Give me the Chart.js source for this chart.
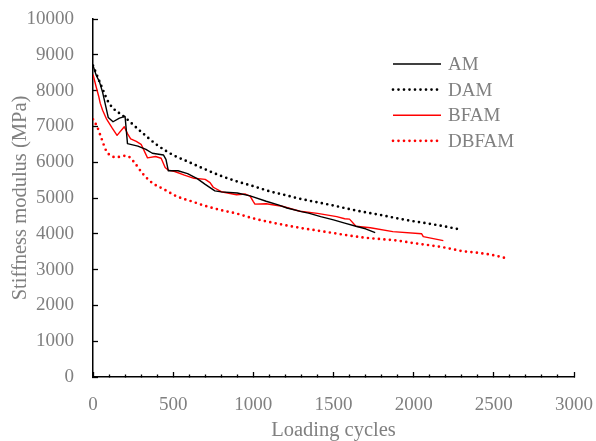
<!DOCTYPE html>
<html>
<head>
<meta charset="utf-8">
<script src="https://cdn.jsdelivr.net/npm/chart.js@4"></script>
<style>
  html, body { margin: 0; padding: 0; background: #fff; }
  #wrap { position: relative; width: 596px; height: 441px; }
</style>
</head>
<body>
<div id="wrap"><canvas id="chart"></canvas></div>
<script>
// ---------------------------------------------------------------------------
// Data (loading cycles vs stiffness modulus, MPa)
// ---------------------------------------------------------------------------
const amCycles    = [0, 20, 40, 60, 80, 95, 125, 165, 200, 215, 280, 330, 370, 440, 455, 470, 530, 590, 650, 700, 760, 800, 900, 980, 1080, 1160, 1210, 1300, 1350, 1420, 1500, 1570, 1640, 1700, 1760];
const amStiffness = [8700, 8430, 8250, 7950, 7550, 7250, 7130, 7230, 7280, 6520, 6450, 6360, 6250, 6200, 6080, 5760, 5760, 5680, 5540, 5380, 5200, 5170, 5140, 5060, 4910, 4800, 4720, 4620, 4570, 4480, 4390, 4300, 4210, 4140, 4030];

const damCycles    = [0, 50, 100, 200, 300, 400, 500, 600, 700, 800, 900, 1000, 1100, 1200, 1300, 1400, 1500, 1600, 1700, 1800, 1900, 2000, 2100, 2200, 2300];
const damStiffness = [8700, 8150, 7650, 7250, 6850, 6480, 6200, 6000, 5800, 5615, 5460, 5330, 5190, 5080, 4970, 4880, 4790, 4690, 4600, 4520, 4430, 4350, 4280, 4200, 4110];

const bfamCycles    = [0, 20, 35, 45, 60, 85, 120, 150, 195, 215, 235, 270, 300, 340, 390, 425, 450, 470, 510, 570, 630, 700, 730, 750, 800, 895, 950, 980, 1000, 1010, 1080, 1180, 1290, 1400, 1520, 1570, 1600, 1640, 1730, 1870, 2050, 2060, 2185];
const bfamStiffness = [8450, 8100, 7850, 7650, 7450, 7200, 6950, 6750, 6990, 6800, 6650, 6580, 6500, 6120, 6160, 6110, 5850, 5780, 5740, 5640, 5550, 5520, 5430, 5300, 5175, 5090, 5110, 5050, 4900, 4830, 4840, 4770, 4630, 4570, 4480, 4420, 4410, 4210, 4170, 4060, 4000, 3920, 3810];

const dbfamCycles    = [0, 25, 50, 85, 145, 200, 225, 260, 310, 370, 440, 520, 620, 700, 800, 900, 1000, 1100, 1200, 1300, 1400, 1500, 1600, 1700, 1800, 1900, 2000, 2100, 2200, 2300, 2400, 2500, 2575];
const dbfamStiffness = [7200, 7000, 6700, 6300, 6140, 6180, 6150, 5980, 5680, 5420, 5250, 5050, 4900, 4780, 4660, 4560, 4430, 4330, 4240, 4160, 4090, 4020, 3950, 3890, 3850, 3810, 3740, 3680, 3610, 3520, 3470, 3400, 3320];

const seriesNames = ['AM', 'DAM', 'BFAM', 'DBFAM'];

// ---------------------------------------------------------------------------
// Styling
// ---------------------------------------------------------------------------
const FONT = "'Liberation Serif', 'Times New Roman', serif";
const TEXT_GREY = '#808080';
const DOTS = [0, 5.5];

function pairs(xs, ys) {
  return xs.map((x, i) => ({ x, y: ys[i] }));
}

function solid(label, xs, ys, color) {
  return {
    label, data: pairs(xs, ys),
    borderColor: color, borderWidth: 1.4,
    pointRadius: 0, tension: 0, borderJoinStyle: 'round',
  };
}

function dotted(label, xs, ys, color) {
  return {
    label, data: pairs(xs, ys),
    borderColor: color, borderWidth: 2.7,
    borderDash: DOTS, borderCapStyle: 'round',
    pointRadius: 0, cubicInterpolationMode: 'monotone',
  };
}

// Legend drawn inside the plot area, upper right (like the Excel original)
const insideLegend = {
  id: 'insideLegend',
  afterDraw(chart) {
    const { ctx } = chart;
    const lineX = 393, lineLen = 48, textX = 448, firstY = 64, rowH = 25.6;
    chart.data.datasets.forEach((ds, i) => {
      const y = firstY + i * rowH;
      ctx.save();
      ctx.strokeStyle = ds.borderColor;
      ctx.lineWidth = ds.borderWidth;
      ctx.setLineDash(ds.borderDash || []);
      ctx.lineCap = ds.borderCapStyle || 'butt';
      ctx.beginPath();
      ctx.moveTo(lineX, y);
      ctx.lineTo(lineX + lineLen, y);
      ctx.stroke();
      ctx.fillStyle = TEXT_GREY;
      ctx.font = `19px ${FONT}`;
      ctx.textBaseline = 'middle';
      ctx.fillText(ds.label, textX, y + 1);
      ctx.restore();
    });
  },
};

new Chart(document.getElementById('chart'), {
  type: 'line',
  data: {
    datasets: [
      solid(seriesNames[0], amCycles, amStiffness, '#000000'),
      dotted(seriesNames[1], damCycles, damStiffness, '#000000'),
      solid(seriesNames[2], bfamCycles, bfamStiffness, '#ff0000'),
      dotted(seriesNames[3], dbfamCycles, dbfamStiffness, '#ff0000'),
    ],
  },
  options: {
    animation: false,
    responsive: true,
    maintainAspectRatio: false,
    layout: { padding: { top: 19, right: 22, bottom: 0, left: 0 } },
    plugins: {
      legend: { display: false },
      tooltip: { enabled: false },
    },
    scales: {
      x: {
        type: 'linear',
        min: 0, max: 3000,
        afterFit: s => { s.height = 64; s.paddingLeft = 0; s.paddingRight = 0; },
        border: { display: true, color: '#000', width: 1.5 },
        grid: {
          drawOnChartArea: false,
          drawTicks: true,
          tickLength: -5,
          tickColor: '#000',
          tickWidth: 1.3,
          // minor ticks every 100 are drawn shorter
          tickBorderDash: c => (c.tick && c.tick.value % 500 === 0 ? [] : [3, 40]),
        },
        ticks: {
          stepSize: 100,
          autoSkip: false,
          maxRotation: 0, minRotation: 0,
          padding: 22,
          color: TEXT_GREY,
          font: { family: FONT, size: 19 },
          callback: v => (v % 500 === 0 ? String(v) : ''),
        },
        title: {
          display: true, text: 'Loading cycles',
          color: TEXT_GREY,
          font: { family: FONT, size: 20.5, lineHeight: 1 },
          padding: { top: 0, bottom: 0 },
        },
      },
      y: {
        min: 0, max: 10000,
        afterFit: s => { s.width = 93; s.paddingTop = 0; s.paddingBottom = 0; },
        border: { display: true, color: '#000', width: 1.5 },
        grid: {
          drawOnChartArea: false,
          drawTicks: true,
          tickLength: -5,
          tickColor: '#000',
          tickWidth: 1.3,
        },
        ticks: {
          stepSize: 1000,
          padding: 24,
          color: TEXT_GREY,
          font: { family: FONT, size: 19 },
          callback: v => String(v),
        },
        title: {
          display: true, text: 'Stiffness modulus (MPa)',
          color: TEXT_GREY,
          font: { family: FONT, size: 20.5 },
          padding: { top: 8, bottom: 0 },
        },
      },
    },
  },
  plugins: [insideLegend],
});
</script>
</body>
</html>
